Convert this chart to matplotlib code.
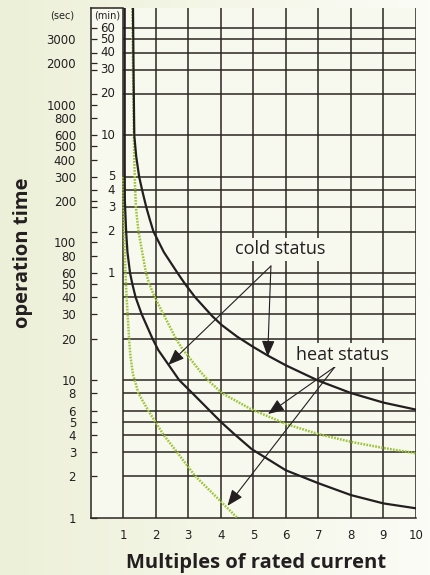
import matplotlib
matplotlib.use('Agg')
import matplotlib.pyplot as plt
import numpy as np
from matplotlib.colors import LinearSegmentedColormap
from matplotlib.ticker import NullFormatter, FixedLocator

# ---------------- data ----------------
sec_ticks = [1, 2, 3, 4, 5, 6, 8, 10, 20, 30, 40, 50, 60, 80, 100, 200, 300,
             400, 500, 600, 800, 1000, 2000, 3000]
min_ticks = [1, 2, 3, 4, 5, 10, 20, 30, 40, 50, 60]
sec_grid = [2, 3, 4, 5, 6, 8, 10, 20, 30, 40, 50]
x_ticks = [1, 2, 3, 4, 5, 6, 7, 8, 9, 10]

cold_upper_x = [1.30, 1.32, 1.34, 1.40, 1.49, 1.60, 1.71, 1.82, 1.93, 2.25, 2.67,
                2.90, 3.21, 3.74, 4.03, 4.50, 5.00, 5.46, 6.00, 7.00, 8.00, 9.00, 10.0]
cold_upper_t = [5060, 1500, 600, 420, 300, 230, 180, 146, 120, 85, 60,
                50, 40, 29.1, 25.1, 20.7, 17.4, 15.0, 12.8, 9.9, 8.05, 6.86, 6.1]

cold_lower_x = [1.045, 1.045, 1.05, 1.09, 1.13, 1.21, 1.28, 1.38, 1.57, 1.90, 2.08,
                2.72, 3.18, 3.72, 4.03, 4.39, 4.95, 6.00, 7.00, 8.00, 9.00, 10.0]
cold_lower_t = [5060, 400, 200, 120, 85, 60, 50, 40, 30, 20, 16.5,
                10, 7.8, 5.8, 4.9, 4.1, 3.15, 2.21, 1.78, 1.46, 1.27, 1.17]

heat_upper_x = [1.28, 1.30, 1.32, 1.34, 1.36, 1.39, 1.47, 1.70, 1.80, 1.97, 2.24,
                2.62, 2.80, 3.36, 3.62, 4.05, 4.90, 6.00, 7.00, 8.00, 9.00, 10.0]
heat_upper_t = [5060, 2000, 800, 400, 270, 180, 120, 60, 50, 40, 30,
                20, 17.1, 11.6, 9.9, 8.0, 6.2, 4.8, 4.05, 3.56, 3.21, 2.94]

heat_lower_x = [1.00, 1.01, 1.025, 1.07, 1.10, 1.135, 1.18, 1.22, 1.30, 1.47,
                1.77, 1.98, 2.24, 2.65, 3.22, 4.50]
heat_lower_t = [300, 200, 123, 60, 42, 30, 20, 15, 11, 8,
                6, 5, 4, 3, 2, 1]

# annotation anchors (data coords): start and tips
cold_start = (5.54, 67.5)
cold_tips = [(2.385, 12.9), (5.44, 14.8)]
heat_start = (7.51, 12.5)
heat_tips = [(5.45, 5.67), (4.205, 1.22)]

# ---------------- style ----------------
INK = '#231f20'
GRID = '#2b2622'
GREEN = '#9dc43a'
PLOT_BG = '#f8f9ee'
TICK_FONT = ['DejaVu Sans']
BOLD_FONT = ['Open Sans', 'DejaVu Sans']

W, H = 430, 575
fig = plt.figure(figsize=(W / 100, H / 100), dpi=100)

bg = fig.add_axes([0, 0, 1, 1], zorder=-10)
grad = np.linspace(0, 1, 256).reshape(1, -1)
cmap = LinearSegmentedColormap.from_list('bg', ['#edf0d8', '#fbfcf6'])
bg.imshow(grad, aspect='auto', cmap=cmap, extent=[0, 1, 0, 1])
bg.axis('off')

L, R, B, T = 90.7, 416.0, 517.7, 8.0
ax = fig.add_axes([L / W, 1 - B / H, (R - L) / W, (B - T) / H])
ax.set_facecolor(PLOT_BG)
ax.set_yscale('log')
ax.set_xlim(0, 10)
ax.set_ylim(1, 5060)

# grid
ax.hlines([m * 60 for m in min_ticks] + sec_grid, 1, 10, color=GRID, lw=1.1, zorder=1)
ax.vlines(x_ticks, 1, 5060, color=GRID, lw=1.1, zorder=1)

for s in ['left', 'bottom', 'top']:
    ax.spines[s].set_color(GRID)
    ax.spines[s].set_linewidth(1.1)
ax.spines['right'].set_visible(False)
ax.spines['top'].set_bounds(0, 1)

# ticks
ax.yaxis.set_major_locator(FixedLocator(sec_ticks))
ax.set_yticklabels([str(v) for v in sec_ticks])
ax.yaxis.set_minor_locator(FixedLocator([m * 60 for m in min_ticks]))
ax.yaxis.set_minor_formatter(NullFormatter())
ax.tick_params(axis='y', which='both', direction='in', length=4, width=0.9,
               color=GRID, pad=10.5, labelsize=8.5)
ax.set_xticks(x_ticks)
ax.set_xticklabels([str(v) for v in x_ticks])
ax.tick_params(axis='x', length=0, pad=8, labelsize=8.5)
for lab in ax.get_xticklabels() + ax.get_yticklabels():
    lab.set_fontfamily(TICK_FONT)
    lab.set_color(INK)

for m in min_ticks:
    ax.text(0.75, m * 60, str(m), ha='right', va='center', fontsize=8.5,
            family=TICK_FONT, color=INK)

fig.text(62 / W, 1 - 15 / H, '(sec)', ha='center', va='center', fontsize=7,
         family=TICK_FONT, color=INK)
fig.text(107.5 / W, 1 - 15.7 / H, '(min)', ha='center', va='center', fontsize=7,
         family=TICK_FONT, color=INK)

# curves
ax.plot(cold_upper_x, cold_upper_t, color=INK, lw=1.6, zorder=4)
ax.plot(cold_lower_x, cold_lower_t, color=INK, lw=1.6, zorder=4)
ax.plot(heat_upper_x, heat_upper_t, color=GREEN, lw=1.8, ls=(0, (0.7, 0.5)), zorder=3)
ax.plot(heat_lower_x, heat_lower_t, color=GREEN, lw=1.8, ls=(0, (0.7, 0.5)), zorder=3)

# arrows
ap = dict(arrowstyle='-|>,head_length=0.7,head_width=0.28', lw=0.8, color=INK,
          shrinkA=0, shrinkB=0, mutation_scale=14)
for tip in cold_tips:
    ax.annotate('', xy=tip, xytext=cold_start, arrowprops=ap, zorder=5)
for tip in heat_tips:
    ax.annotate('', xy=tip, xytext=heat_start, arrowprops=ap, zorder=5)

box = dict(facecolor=PLOT_BG, edgecolor='none', pad=2)
fig.text(280 / W, 1 - 249.3 / H, 'cold status', ha='center', va='center', fontsize=13,
         family=BOLD_FONT, color=INK, bbox=box, zorder=10)
fig.text(342.7 / W, 1 - 355 / H, 'heat status', ha='center', va='center', fontsize=13,
         family=BOLD_FONT, color=INK, bbox=box, zorder=10)

fig.text(23 / W, 1 - 253 / H, 'operation time', rotation=90, ha='center', va='center',
         fontsize=14.5, fontweight='bold', family=BOLD_FONT, color=INK)
fig.text(255.8 / W, 1 - 563 / H, 'Multiples of rated current', ha='center', va='center',
         fontsize=14.5, fontweight='bold', family=BOLD_FONT, color=INK)

fig.savefig('out.png', dpi=100)
